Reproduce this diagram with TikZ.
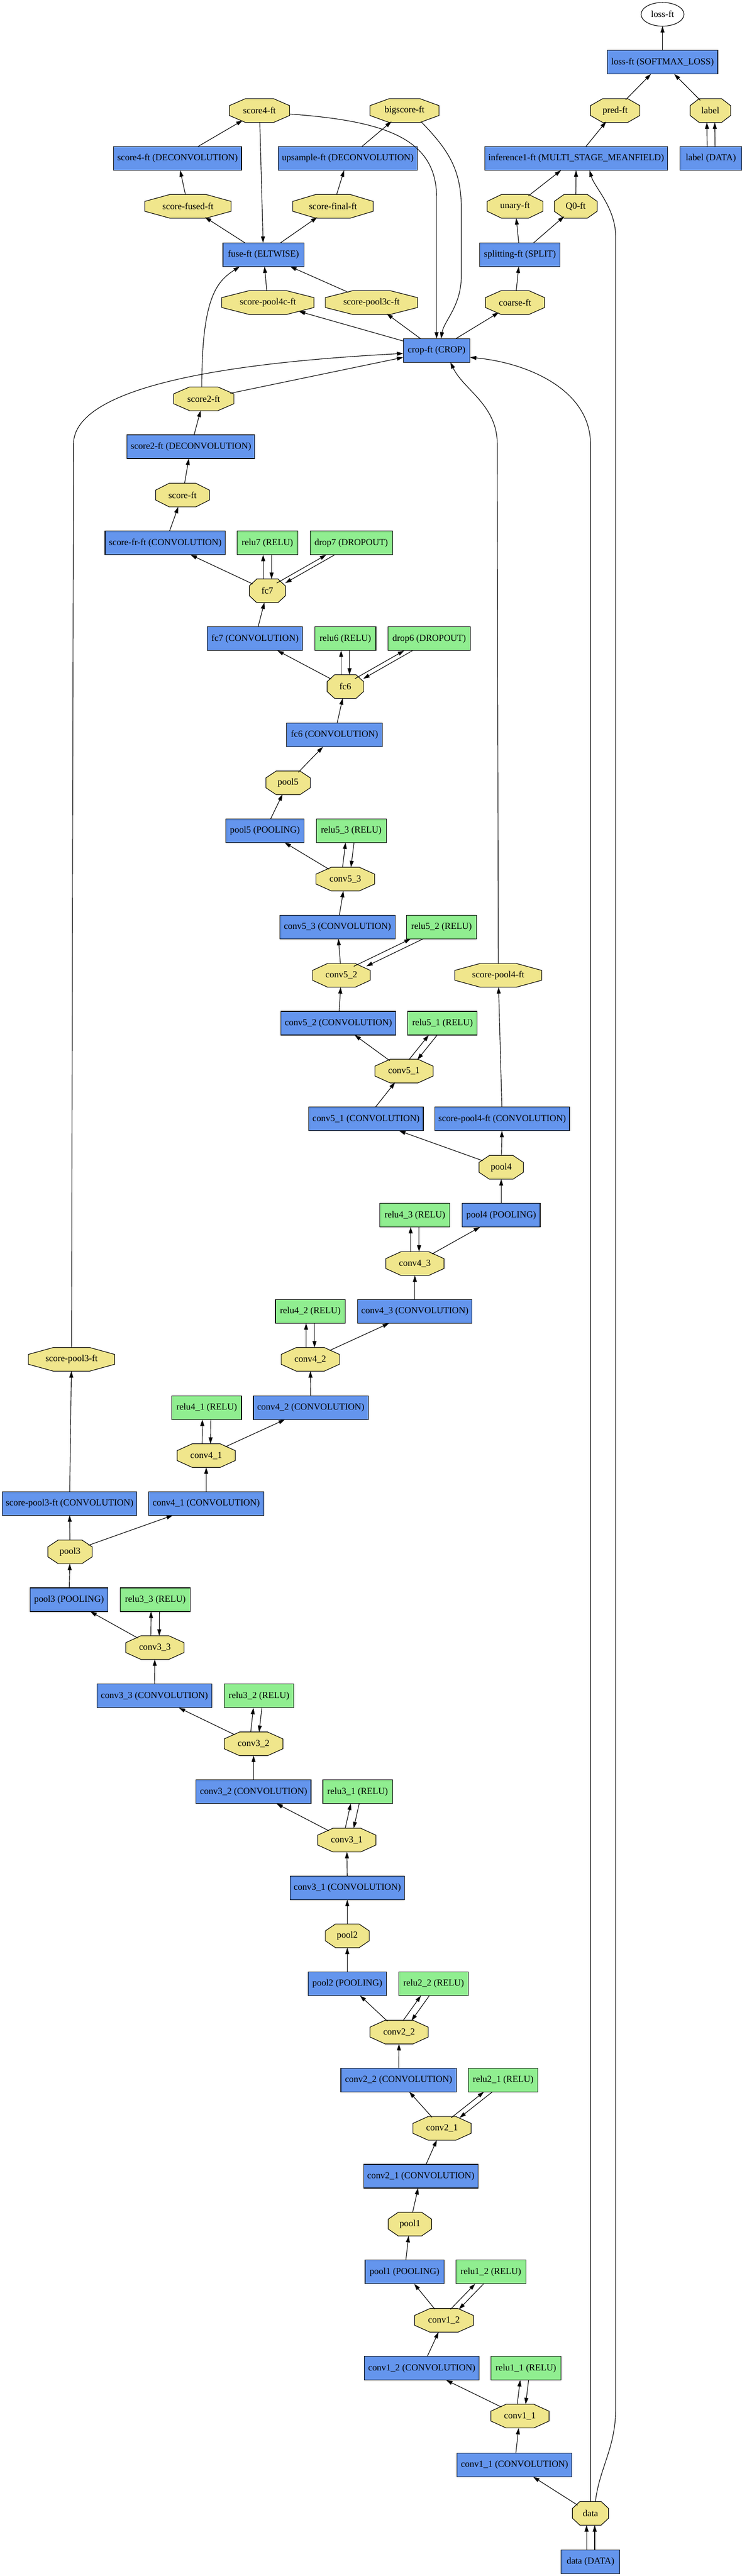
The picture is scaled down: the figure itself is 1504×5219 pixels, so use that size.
\documentclass[tikz,border=0pt]{standalone}
\usepackage{fontspec}
\setmainfont{Liberation Serif}
\usetikzlibrary{arrows.meta,calc,shapes.geometric}
\definecolor{cblue}{HTML}{6495ED}
\definecolor{lgreen}{HTML}{90EE90}
\definecolor{khakiy}{HTML}{F0E68C}
\tikzset{
  basen/.style={font=\fontsize{14pt}{16pt}\selectfont, inner sep=1pt, outer sep=0pt, minimum height=36pt},
  bbox/.style={basen, rectangle, draw, line width=0.9pt, fill=cblue, minimum width=#1*0.75pt},
  gbox/.style={basen, rectangle, draw, line width=0.9pt, fill=lgreen, minimum width=#1*0.75pt},
  octn/.style={basen, ellipse, inner sep=0pt, minimum width=#1*0.75pt},
  octfill/.style={fill=khakiy, draw=black, line width=0.9pt},
  arr/.style={-{Triangle[length=9.75pt,width=6pt]}, line width=0.9pt},
}
\newcommand\mkoct[5]{%
  \pgfmathsetmacro\chx{0.351*#4-10.6}%
  \filldraw[octfill] ({#2-#4/2+\chx},{#3-24}) -- ({#2+#4/2-\chx},{#3-24}) -- ({#2+#4/2},{#3-10}) -- ({#2+#4/2},{#3+10}) -- ({#2+#4/2-\chx},{#3+24}) -- ({#2-#4/2+\chx},{#3+24}) -- ({#2-#4/2},{#3+10}) -- ({#2-#4/2},{#3-10}) -- cycle;
  \node[octn=#4] (#1) at (#2,#3) {#5};
}
\newcommand\ip[3][6.4pt]{%
  \draw[arr,transform canvas={xshift=-#1}] (#2) -- (#3);
  \draw[arr,transform canvas={xshift=#1}] (#3) -- (#2);
}
\begin{document}
\begin{tikzpicture}[x=0.75pt,y=-0.75pt]
\fill[white] (0,0) rectangle (1504,5219);
\useasboundingbox (0,0) rectangle (1504,5219);

% ---------- top part ----------
\node[basen, ellipse, draw, line width=0.9pt, fill=white, minimum width=87*0.75pt, inner sep=0pt] (lossE) at (1343,29) {loss-ft};
\node[bbox=224] (lossB) at (1343,126) {loss-ft (SOFTMAX\_LOSS)};
\mkoct{pred}{1247}{224}{100}{pred-ft}
\mkoct{lab}{1440}{224}{82}{label}
\mkoct{s4}{526}{224}{122}{score4-ft}
\mkoct{bigs}{820}{224}{140}{bigscore-ft}
\node[bbox=259] (s4d) at (360,321) {score4-ft (DECONVOLUTION)};
\node[bbox=282] (upd) at (705,321) {upsample-ft (DECONVOLUTION)};
\node[bbox=371] (inf) at (1168,321) {inference1-ft (MULTI\_STAGE\_MEANFIELD)};
\node[bbox=125] (labD) at (1441,321) {label (DATA)};
\mkoct{sfused}{381}{418}{175}{score-fused-ft}
\mkoct{sfinal}{675}{418}{163}{score-final-ft}
\mkoct{unary}{1044}{418}{113}{unary-ft}
\mkoct{qz}{1167}{418}{87}{Q0-ft}
\node[bbox=164] (fuse) at (534,516) {fuse-ft (ELTWISE)};
\node[bbox=163] (split) at (1054,516) {splitting-ft (SPLIT)};
\mkoct{spfc}{543}{613}{187}{score-pool4c-ft}
\mkoct{sptc}{753}{613}{187}{score-pool3c-ft}
\mkoct{coarse}{1044}{613}{120}{coarse-ft}
\node[bbox=135] (crop) at (885,710) {crop-ft (CROP)};
\mkoct{s2}{413}{808}{122}{score2-ft}
\node[bbox=259] (s2d) at (387,905) {score2-ft (DECONVOLUTION)};
\mkoct{score}{370}{1003}{109}{score-ft}
\node[bbox=244] (sfr) at (335,1100) {score-fr-ft (CONVOLUTION)};
\node[gbox=123] (relu7) at (542,1100) {relu7 (RELU)};
\node[gbox=167] (drop7) at (712,1100) {drop7 (DROPOUT)};
\mkoct{fcs}{542}{1197}{73}{fc7}
\node[bbox=193] (fcsc) at (517,1294) {fc7 (CONVOLUTION)};
\node[gbox=124] (relu6) at (700,1294) {relu6 (RELU)};
\node[gbox=167] (drop6) at (870,1294) {drop6 (DROPOUT)};
\mkoct{fcx}{700}{1391}{74}{fc6}
\node[bbox=194] (fcxc) at (678,1489) {fc6 (CONVOLUTION)};
\mkoct{poolv}{584}{1586}{90}{pool5}
\node[bbox=159] (pvc) at (537,1683) {pool5 (POOLING)};
\node[gbox=142] (rvc) at (712,1683) {relu5\_3 (RELU)};
\mkoct{cvc}{700}{1781}{119}{conv5\_3}
\node[bbox=234] (cvcc) at (684,1878) {conv5\_3 (CONVOLUTION)};
\node[gbox=142] (rvb) at (895,1878) {relu5\_2 (RELU)};
\mkoct{cvb}{692}{1976}{117}{conv5\_2}
\mkoct{spf}{1010}{1976}{176}{score-pool4-ft}
\node[bbox=233] (cvbc) at (686,2073) {conv5\_2 (CONVOLUTION)};
\node[gbox=141] (rva) at (897,2073) {relu5\_1 (RELU)};
\mkoct{cva}{819}{2170}{118}{conv5\_1}
\node[bbox=232] (cvac) at (742,2267) {conv5\_1 (CONVOLUTION)};
\node[bbox=273] (spfc2) at (1018,2267) {score-pool4-ft (CONVOLUTION)};
\mkoct{poolf}{1016}{2365}{90}{pool4}
\node[gbox=142] (rfc) at (841,2462) {relu4\_3 (RELU)};
\node[bbox=158] (pfc) at (1016,2462) {pool4 (POOLING)};
\mkoct{cfc}{841}{2560}{118}{conv4\_3}
\node[gbox=141] (rfb) at (629,2657) {relu4\_2 (RELU)};
\node[bbox=232] (cfcc) at (841,2657) {conv4\_3 (CONVOLUTION)};
\mkoct{spt}{145}{2754}{175}{score-pool3-ft}
\mkoct{cfb}{629}{2754}{118}{conv4\_2}
\node[gbox=141] (rfa) at (419,2852) {relu4\_1 (RELU)};
\node[bbox=233] (cfbc) at (630,2852) {conv4\_2 (CONVOLUTION)};
\mkoct{cfa}{418}{2949}{118}{conv4\_1}
\node[bbox=273] (sptc2) at (141,3046) {score-pool3-ft (CONVOLUTION)};
\node[bbox=233] (cfac) at (418,3046) {conv4\_1 (CONVOLUTION)};
\mkoct{poolt}{142}{3144}{90}{pool3}
\node[bbox=158] (ptc) at (140,3241) {pool3 (POOLING)};
\node[gbox=142] (rtc) at (315,3241) {relu3\_3 (RELU)};
\mkoct{ctc}{314}{3338}{118}{conv3\_3}
\node[bbox=233] (ctcc) at (313,3436) {conv3\_3 (CONVOLUTION)};
\node[gbox=141] (rtb) at (525,3436) {relu3\_2 (RELU)};
\mkoct{ctb}{514}{3533}{119}{conv3\_2}
\node[bbox=233] (ctbc) at (514,3630) {conv3\_2 (CONVOLUTION)};
\node[gbox=141] (rta) at (725,3630) {relu3\_1 (RELU)};
\mkoct{cta}{703}{3728}{118}{conv3\_1}
\node[bbox=232] (ctac) at (704,3825) {conv3\_1 (CONVOLUTION)};
\mkoct{poolb}{704}{3922}{89}{pool2}
\node[bbox=159] (pbc) at (704,4019) {pool2 (POOLING)};
\node[gbox=141] (rbb) at (879,4019) {relu2\_2 (RELU)};
\mkoct{cbb}{809}{4117}{118}{conv2\_2}
\node[bbox=234] (cbbc) at (808,4214) {conv2\_2 (CONVOLUTION)};
\node[gbox=141] (rba) at (1020,4214) {relu2\_1 (RELU)};
\mkoct{cba}{896}{4312}{118}{conv2\_1}
\node[bbox=232] (cbac) at (853,4409) {conv2\_1 (CONVOLUTION)};
\mkoct{poola}{831}{4506}{88}{pool1}
\node[bbox=160] (pac) at (820,4603) {pool1 (POOLING)};
\node[gbox=142] (rab) at (995,4603) {relu1\_2 (RELU)};
\mkoct{cab}{900}{4701}{119}{conv1\_2}
\node[bbox=233] (cabc) at (855,4798) {conv1\_2 (CONVOLUTION)};
\node[gbox=142] (raa) at (1066,4798) {relu1\_1 (RELU)};
\mkoct{caa}{1054}{4895}{118}{conv1\_1}
\node[bbox=233] (caac) at (1043,4994) {conv1\_1 (CONVOLUTION)};
\mkoct{data}{1197}{5092}{73}{data}
\node[bbox=119] (dataD) at (1197,5190) {data (DATA)};

% ---------- edges ----------
\draw[arr,transform canvas={xshift=-6pt}] (dataD) -- (data);
\draw[arr,transform canvas={xshift=6.4pt}] (dataD) -- (data);
\draw[arr] (data) -- (caac);
\draw[arr] (caac) -- (caa);
\draw[arr] (caa) -- (cabc);
\ip{caa}{raa}
\draw[arr] (cabc) -- (cab);
\draw[arr] (cab) -- (pac);
\ip{cab}{rab}
\draw[arr] (pac) -- (poola);
\draw[arr] (poola) -- (cbac);
\draw[arr] (cbac) -- (cba);
\draw[arr] (cba) -- (cbbc);
\ip{cba}{rba}
\draw[arr] (cbbc) -- (cbb);
\draw[arr] (cbb) -- (pbc);
\ip{cbb}{rbb}
\draw[arr] (pbc) -- (poolb);
\draw[arr] (poolb) -- (ctac);
\draw[arr] (ctac) -- (cta);
\draw[arr] (cta) -- (ctbc);
\ip{cta}{rta}
\draw[arr] (ctbc) -- (ctb);
\draw[arr] (ctb) -- (ctcc);
\ip{ctb}{rtb}
\draw[arr] (ctcc) -- (ctc);
\draw[arr] (ctc) -- (ptc);
\ip{ctc}{rtc}
\draw[arr] (ptc) -- (poolt);
\draw[arr] (poolt) -- (sptc2);
\draw[arr] (poolt) -- (cfac);
\draw[arr] (sptc2) -- (spt);
\draw[arr] (cfac) -- (cfa);
\draw[arr] (cfa) -- (cfbc);
\ip{cfa}{rfa}
\draw[arr] (cfbc) -- (cfb);
\draw[arr] (cfb) -- (cfcc);
\ip{cfb}{rfb}
\draw[arr] (cfcc) -- (cfc);
\draw[arr] (cfc) -- (pfc);
\ip{cfc}{rfc}
\draw[arr] (pfc) -- (poolf);
\draw[arr] (poolf) -- (cvac);
\draw[arr] (poolf) -- (spfc2);
\draw[arr] (spfc2) -- (spf);
\draw[arr] (cvac) -- (cva);
\draw[arr] (cva) -- (cvbc);
\ip{cva}{rva}
\draw[arr] (cvbc) -- (cvb);
\draw[arr] (cvb) -- (cvcc);
\ip[9.5pt]{cvb}{rvb}
\draw[arr] (cvcc) -- (cvc);
\draw[arr] (cvc) -- (pvc);
\ip{cvc}{rvc}
\draw[arr] (pvc) -- (poolv);
\draw[arr] (poolv) -- (fcxc);
\draw[arr] (fcxc) -- (fcx);
\draw[arr] (fcx) -- (fcsc);
\ip{fcx}{relu6}
\ip{fcx}{drop6}
\draw[arr] (fcsc) -- (fcs);
\draw[arr] (fcs) -- (sfr);
\ip{fcs}{relu7}
\ip{fcs}{drop7}
\draw[arr] (sfr) -- (score);
\draw[arr] (score) -- (s2d);
\draw[arr] (s2d) -- (s2);
\draw[arr] (s2) -- (crop);
\draw[arr] ([shift={(-4,0)}]s2.north) .. controls +(0,-183) and +(-46,30) .. ([shift={(34,0)}]fuse.south west);
\draw[arr] (spt.north) -- (149,900) .. controls (149,760) and (600,728) .. ([shift={(0,6)}]crop.west);
\draw[arr] (spf.north) -- (1008,900) .. controls (1008,820) and (940,790) .. ([shift={(28,0)}]crop.south);
\draw[arr] (data.north) -- (1197,900) .. controls (1197,790) and (1070,735) .. ([shift={(0,14)}]crop.east);
\draw[arr] ([shift={(10,0)}]data.north) .. controls (1215,5000) and (1248,4960) .. (1248,4880) -- (1248,480) .. controls (1248,420) and (1205,380) .. ([shift={(27,0)}]inf.south);
\draw[arr] ([shift={(0,7)}]s4.east) .. controls (780,245) and (885,280) .. (885,400) -- (crop.north);
\draw[arr] ([shift={(34,23)}]bigs.center) .. controls (905,300) and (935,340) .. (935,420) -- (935,560) .. controls (935,620) and (900,650) .. ([shift={(9,0)}]crop.north);
\draw[arr] (crop) -- (spfc);
\draw[arr] (crop) -- (sptc);
\draw[arr] (crop) -- (coarse);
\draw[arr] (spfc) -- (fuse);
\draw[arr] (sptc) -- (fuse);
\draw[arr] (s4) -- (fuse);
\draw[arr] (fuse) -- (sfused);
\draw[arr] (fuse) -- (sfinal);
\draw[arr] (sfused) -- (s4d);
\draw[arr] (s4d) -- (s4);
\draw[arr] (sfinal) -- (upd);
\draw[arr] (upd) -- (bigs);
\draw[arr] (coarse) -- (split);
\draw[arr] (split) -- (unary);
\draw[arr] (split) -- (qz);
\draw[arr] (unary) -- (inf);
\draw[arr] (qz) -- (inf);
\draw[arr] (inf) -- (pred);
\draw[arr] (pred) -- (lossB);
\draw[arr] (lab) -- (lossB);
\draw[arr,transform canvas={xshift=-5.5pt}] (labD) -- (lab);
\draw[arr,transform canvas={xshift=6.5pt}] (labD) -- (lab);
\draw[arr] (lossB) -- (lossE);
\end{tikzpicture}
\end{document}
